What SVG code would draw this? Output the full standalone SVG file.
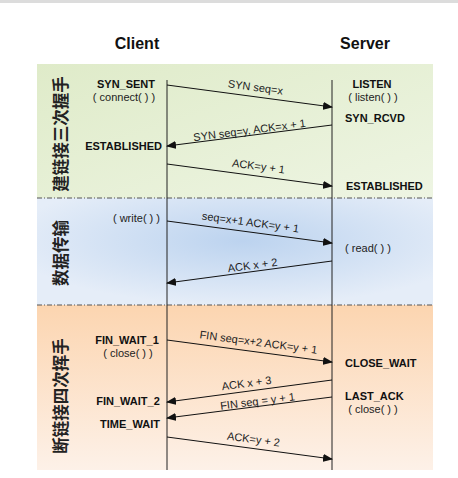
<svg xmlns="http://www.w3.org/2000/svg" width="458" height="478" viewBox="0 0 458 478">
<defs>
<linearGradient id="gGreen" x1="0" y1="0" x2="1" y2="1">
<stop offset="0" stop-color="#dfebc9"/>
<stop offset="1" stop-color="#eef5e3"/>
</linearGradient>
<radialGradient id="gBlue" cx="0.52" cy="0.4" r="0.6">
<stop offset="0" stop-color="#bcd3ef"/>
<stop offset="1" stop-color="#e5edf8"/>
</radialGradient>
<linearGradient id="gOrange" x1="0" y1="0" x2="0" y2="1">
<stop offset="0" stop-color="#fcd5b0"/>
<stop offset="1" stop-color="#fdf1e8"/>
</linearGradient>
<marker id="ah" markerWidth="10" markerHeight="8" refX="9" refY="4" orient="auto" markerUnits="userSpaceOnUse">
<path d="M0,0 L10,4 L0,8 Z" fill="#111"/>
</marker>
<style>
.title{font-family:"Liberation Sans",Arial,sans-serif;font-size:16px;font-weight:bold;fill:#111}
.st{font-family:"Liberation Sans",Arial,sans-serif;font-size:11px;font-weight:bold;fill:#111}
.fn{font-family:"Liberation Sans",Arial,sans-serif;font-size:11px;fill:#222}
.lb{font-family:"Liberation Sans",Arial,sans-serif;font-size:11px;fill:#222}
.cn{font-family:"Noto Sans CJK SC","Noto Sans CJK TC",sans-serif;font-size:16.5px;font-weight:bold;fill:#222}
.life{stroke:#222;stroke-width:1}
.sep{stroke:#555;stroke-width:1;stroke-dasharray:5,2,1,2}
.msg{stroke:#111;stroke-width:1;fill:none;marker-end:url(#ah)}
</style>
</defs>
<rect x="0" y="0" width="458" height="478" fill="#ffffff"/>
<rect x="0" y="0" width="458" height="3" fill="#dcdcdc"/>
<g id="sections">
<rect x="37" y="64" width="396" height="134" fill="url(#gGreen)"/>
<rect x="37" y="198" width="396" height="107" fill="url(#gBlue)"/>
<rect x="37" y="305" width="396" height="165" fill="url(#gOrange)"/>
<line class="sep" x1="37" y1="198" x2="433" y2="198"/>
<line class="sep" x1="37" y1="305" x2="433" y2="305"/>
</g>
<g id="client">
<text class="title" x="137" y="49" text-anchor="middle">Client</text>
<line class="life" x1="167" y1="80" x2="167" y2="470"/>
</g>
<g id="server">
<text class="title" x="365" y="49" text-anchor="middle">Server</text>
<line class="life" x1="332" y1="80" x2="332" y2="470"/>
</g>
<g id="phase-handshake">
<text class="cn" transform="translate(67,134) rotate(-90)" text-anchor="middle">建链接三次握手</text>
</g>
<g id="phase-data">
<text class="cn" transform="translate(67,253) rotate(-90)" text-anchor="middle">数据传输</text>
</g>
<g id="phase-teardown">
<text class="cn" transform="translate(67,396) rotate(-90)" text-anchor="middle">断链接四次挥手</text>
</g>
<g id="client-states">
<text class="st" x="126" y="88" text-anchor="middle">SYN_SENT</text>
<text class="fn" x="124" y="101" text-anchor="middle">( connect( ) )</text>
<text class="st" x="162" y="150" text-anchor="end">ESTABLISHED</text>
<text class="fn" x="160" y="222" text-anchor="end">( write( ) )</text>
<text class="st" x="127" y="344" text-anchor="middle">FIN_WAIT_1</text>
<text class="fn" x="128" y="357" text-anchor="middle">( close( ) )</text>
<text class="st" x="128" y="405" text-anchor="middle">FIN_WAIT_2</text>
<text class="st" x="130" y="428" text-anchor="middle">TIME_WAIT</text>
</g>
<g id="server-states">
<text class="st" x="372" y="88" text-anchor="middle">LISTEN</text>
<text class="fn" x="373" y="101" text-anchor="middle">( listen( ) )</text>
<text class="st" x="345" y="122">SYN_RCVD</text>
<text class="st" x="346" y="190">ESTABLISHED</text>
<text class="fn" x="368" y="252" text-anchor="middle">( read( ) )</text>
<text class="st" x="345" y="367">CLOSE_WAIT</text>
<text class="st" x="345" y="400">LAST_ACK</text>
<text class="fn" x="373" y="413" text-anchor="middle">( close( ) )</text>
</g>
<g id="connectors">
<line class="msg" x1="167" y1="85" x2="332" y2="107"/>
<line class="msg" x1="332" y1="125" x2="167" y2="146"/>
<line class="msg" x1="167" y1="164" x2="332" y2="186"/>
<line class="msg" x1="167" y1="221" x2="332" y2="243"/>
<line class="msg" x1="332" y1="261" x2="167" y2="283"/>
<line class="msg" x1="167" y1="340" x2="332" y2="362"/>
<line class="msg" x1="332" y1="380" x2="167" y2="402"/>
<line class="msg" x1="332" y1="397" x2="167" y2="418"/>
<line class="msg" x1="167" y1="437" x2="332" y2="459"/>
<text class="lb" transform="translate(255,91) rotate(7.6)" text-anchor="middle">SYN seq=x</text>
<text class="lb" transform="translate(250,134) rotate(-7.3)" text-anchor="middle">SYN seq=y, ACK=x + 1</text>
<text class="lb" transform="translate(258,170) rotate(7.6)" text-anchor="middle">ACK=y + 1</text>
<text class="lb" transform="translate(250,226) rotate(7.6)" text-anchor="middle">seq=x+1 ACK=y + 1</text>
<text class="lb" transform="translate(253,269) rotate(-7.6)" text-anchor="middle">ACK x + 2</text>
<text class="lb" transform="translate(258,346) rotate(7.6)" text-anchor="middle">FIN seq=x+2 ACK=y + 1</text>
<text class="lb" transform="translate(247,387) rotate(-7.6)" text-anchor="middle">ACK x + 3</text>
<text class="lb" transform="translate(258,405) rotate(-7.2)" text-anchor="middle">FIN seq = y + 1</text>
<text class="lb" transform="translate(253,443) rotate(7.6)" text-anchor="middle">ACK=y + 2</text>
</g>
</svg>
